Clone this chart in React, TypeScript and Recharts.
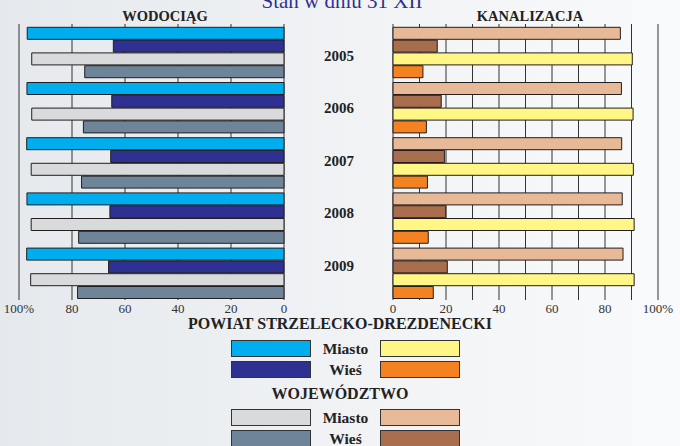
import { Bar, BarChart, CartesianGrid, XAxis, YAxis } from "recharts";

const years = ["2005", "2006", "2007", "2008", "2009"];

// WODOCIĄG (%)
const wodPowiatMiasto = [96.9, 97.0, 97.1, 97.0, 97.1];
const wodPowiatWies = [64.4, 65.0, 65.4, 65.7, 66.2];
const wodWojMiasto = [95.2, 95.2, 95.4, 95.4, 95.6];
const wodWojWies = [75.2, 75.7, 76.4, 77.5, 77.9];

// KANALIZACJA (%)
const kanWojMiasto = [85.8, 86.2, 86.3, 86.5, 86.8];
const kanWojWies = [16.7, 18.2, 19.4, 19.9, 20.5];
const kanPowiatMiasto = [90.3, 90.6, 90.7, 91.0, 91.0];
const kanPowiatWies = [11.3, 12.6, 13.0, 13.3, 15.2];

const leftTicks = [0, 20, 40, 60, 80, 100];
const rightTicks = [0, 10, 20, 30, 40, 50, 60, 70, 80, 90, 100];

const C = {
  cyan: "#00aeef",
  navy: "#2e3192",
  gray: "#d9dadc",
  slate: "#6e8498",
  yellow: "#fff685",
  orange: "#f58220",
  tan: "#e8b997",
  brown: "#a76d4d",
};

const serif = "Liberation Serif, Times New Roman, DejaVu Serif, serif";
const stroke = "#231f20";

const wodData = years.map((y, i) => ({
  year: y,
  pm: wodPowiatMiasto[i],
  pw: wodPowiatWies[i],
  wm: wodWojMiasto[i],
  ww: wodWojWies[i],
}));

const kanData = years.map((y, i) => ({
  year: y,
  wm: kanWojMiasto[i],
  ww: kanWojWies[i],
  pm: kanPowiatMiasto[i],
  pw: kanPowiatWies[i],
}));

const pct = (v: number) => (v === 100 ? "100%" : String(v));
const tickStyle = { fontFamily: serif, fontSize: 13, fill: "#333" };

// year labels sit a little higher than the group centres, more so further down
function YearTick(props: any) {
  const { x, y, payload, index } = props;
  return (
    <text
      x={x}
      y={y + 9 - index * 2.7}
      textAnchor="end"
      fontFamily={serif}
      fontSize={15}
      fontWeight="bold"
      fill="#222"
    >
      {payload.value}
    </text>
  );
}

function Box({ color }: { color: string }) {
  return (
    <div
      style={{
        width: 78,
        height: 15,
        background: color,
        border: "1px solid #333",
      }}
    />
  );
}

function LegendRow({ left, right, label, top }: { left: string; right: string; label: string; top: number }) {
  return (
    <div style={{ position: "absolute", top, left: 231, display: "flex", alignItems: "center" }}>
      <Box color={left} />
      <div
        style={{
          width: 69,
          textAlign: "center",
          fontFamily: serif,
          fontWeight: "bold",
          fontSize: 15.5,
          lineHeight: "17px",
          color: "#222",
        }}
      >
        {label}
      </div>
      <Box color={right} />
    </div>
  );
}

const heading = {
  position: "absolute" as const,
  textAlign: "center" as const,
  fontWeight: "bold" as const,
  color: "#222",
  lineHeight: 1,
};

export default function App() {
  return (
    <div
      style={{
        position: "absolute",
        left: 0,
        top: 0,
        width: 680,
        height: 446,
        overflow: "hidden",
        background: "linear-gradient(to right, #e5e9ed, #f1f3f5 55%, #f9fafb)",
        fontFamily: serif,
      }}
    >
      <div
        style={{
          position: "absolute",
          top: -9,
          left: 0,
          width: 684,
          textAlign: "center",
          fontSize: 21,
          lineHeight: 1,
          color: "#2e3192",
        }}
      >
        Stan w dniu 31 XII
      </div>
      <div style={{ ...heading, top: 9, left: 100, width: 130, fontSize: 14.5 }}>WODOCIĄG</div>
      <div style={{ ...heading, top: 9, left: 460, width: 140, fontSize: 14.5 }}>KANALIZACJA</div>

      <div style={{ position: "absolute", left: 0, top: 0 }}>
        <BarChart
          width={300}
          height={322}
          data={wodData}
          layout="vertical"
          margin={{ top: 24, right: 16, bottom: 2, left: 19 }}
          barCategoryGap={3.3}
          barGap={0.8}
        >
          <CartesianGrid horizontal={false} stroke="#333" strokeWidth={1} />
          <XAxis
            type="number"
            domain={[0, 100]}
            ticks={leftTicks}
            reversed
            interval={0}
            height={20}
            axisLine={false}
            tickLine={false}
            tickSize={0}
            tickMargin={4}
            tickFormatter={pct}
            tick={tickStyle}
          />
          <YAxis type="category" dataKey="year" hide />
          <Bar dataKey="pm" fill={C.cyan} stroke={stroke} strokeWidth={1} isAnimationActive={false} />
          <Bar dataKey="pw" fill={C.navy} stroke={stroke} strokeWidth={1} isAnimationActive={false} />
          <Bar dataKey="wm" fill={C.gray} stroke={stroke} strokeWidth={1} isAnimationActive={false} />
          <Bar dataKey="ww" fill={C.slate} stroke={stroke} strokeWidth={1} isAnimationActive={false} />
        </BarChart>
      </div>

      <div style={{ position: "absolute", left: 300, top: 0 }}>
        <BarChart
          width={380}
          height={322}
          data={kanData}
          layout="vertical"
          margin={{ top: 24, right: 22, bottom: 2, left: 33 }}
          barCategoryGap={3.3}
          barGap={0.8}
        >
          <CartesianGrid horizontal={false} stroke="#333" strokeWidth={1} />
          <XAxis
            type="number"
            domain={[0, 100]}
            ticks={rightTicks}
            interval={0}
            height={20}
            axisLine={false}
            tickLine={false}
            tickSize={0}
            tickMargin={4}
            tickFormatter={(v: number) => (v % 20 === 0 ? pct(v) : "")}
            tick={tickStyle}
          />
          <YAxis
            type="category"
            dataKey="year"
            width={60}
            axisLine={false}
            tickLine={false}
            tickSize={0}
            tickMargin={39}
            interval={0}
            tick={<YearTick />}
          />
          <Bar dataKey="wm" fill={C.tan} stroke={stroke} strokeWidth={1} isAnimationActive={false} />
          <Bar dataKey="ww" fill={C.brown} stroke={stroke} strokeWidth={1} isAnimationActive={false} />
          <Bar dataKey="pm" fill={C.yellow} stroke={stroke} strokeWidth={1} isAnimationActive={false} />
          <Bar dataKey="pw" fill={C.orange} stroke={stroke} strokeWidth={1} isAnimationActive={false} />
        </BarChart>
      </div>

      <div style={{ ...heading, top: 316, left: 0, width: 680, fontSize: 16 }}>POWIAT STRZELECKO-DREZDENECKI</div>
      <LegendRow left={C.cyan} right={C.yellow} label="Miasto" top={340} />
      <LegendRow left={C.navy} right={C.orange} label="Wieś" top={361} />
      <div style={{ ...heading, top: 386, left: 0, width: 680, fontSize: 16 }}>WOJEWÓDZTWO</div>
      <LegendRow left={C.gray} right={C.tan} label="Miasto" top={409} />
      <LegendRow left={C.slate} right={C.brown} label="Wieś" top={430} />
    </div>
  );
}
